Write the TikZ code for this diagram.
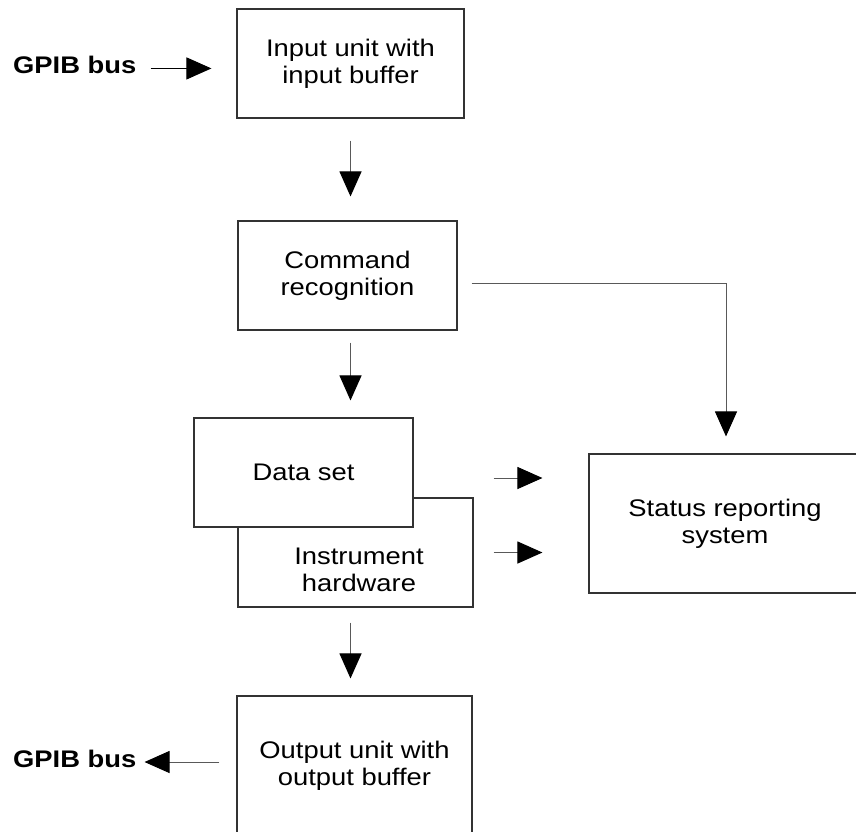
\documentclass[tikz,border=0pt]{standalone}
\usepackage{fontspec}
\setmainfont[FakeStretch=1.14]{Liberation Sans}
\usetikzlibrary{arrows.meta}

\begin{document}
\begin{tikzpicture}[x=1pt,y=-1pt,
box/.style={draw=black!80,line width=1.1pt,fill=white,align=center,
font=\fontsize{24}{27}\selectfont,inner sep=0pt},
txt/.style={align=center,font=\fontsize{24}{27}\selectfont,inner sep=0pt},
bus/.style={font=\fontsize{24}{27}\selectfont\bfseries,inner sep=0pt},
flow/.style={draw=black!65,line width=1pt,
-{Triangle[length=25pt,width=22pt,color=black]}}]

\useasboundingbox
(0,0)
rectangle
(856,831);

\node[box,minimum width=227pt,minimum height=109pt]
(input)
at (350.5,63.5)
{Input unit with\\input buffer};

\node[box,minimum width=219pt,minimum height=109pt]
(command)
at (347.5,275.5)
{Command\\recognition};

\node[box,minimum width=235pt,minimum height=109pt]
(hw)
at (355.5,552.5)
{};

\node[txt]
(hwtext)
at (359,570)
{Instrument\\hardware};

\node[box,minimum width=219pt,minimum height=109pt]
(dataset)
at (303.5,472.5)
{Data set};

\node[box,minimum width=272pt,minimum height=139pt]
(status)
at (725,523.5)
{Status reporting\\system};

\node[box,minimum width=235pt,minimum height=140pt]
(output)
at (354.5,766)
{Output unit with\\output buffer};

\node[bus,anchor=base west]
(gpibin)
at (13,73)
{GPIB bus};

\node[bus,anchor=base west]
(gpibout)
at (13,767)
{GPIB bus};

\coordinate
(busin)
at ([yshift=-4pt]gpibin.east);

\draw[flow,draw=black,shorten <=14pt,shorten >=25pt]
(busin)
--
(busin -| input.west);

\draw[flow,shorten <=22pt,shorten >=24pt]
(input.south)
--
(input.south |- command.north);

\draw[flow,shorten <=12pt,shorten >=17pt]
(input.south |- command.south)
--
(input.south |- dataset.north);

\draw[flow]
([xshift=14pt,yshift=-7.5pt]command.east)
-|
([xshift=1pt,yshift=17pt]status.north);

\coordinate
(dsout)
at ([yshift=-5.5pt]dataset.east);

\draw[flow,shorten <=80pt,shorten >=46pt]
(dsout)
--
(dsout -| status.west);

\draw[flow,shorten <=20pt,shorten >=46pt]
(hw.east)
--
(hw.east -| status.west);

\draw[flow,shorten <=15pt,shorten >=17pt]
(input.south |- hw.south)
--
(input.south |- output.north);

\coordinate
(busout)
at ([yshift=5pt]gpibout.base east);

\draw[flow,shorten <=17pt,shorten >=8pt]
(busout -| output.west)
--
(busout);

\end{tikzpicture}
\end{document}
